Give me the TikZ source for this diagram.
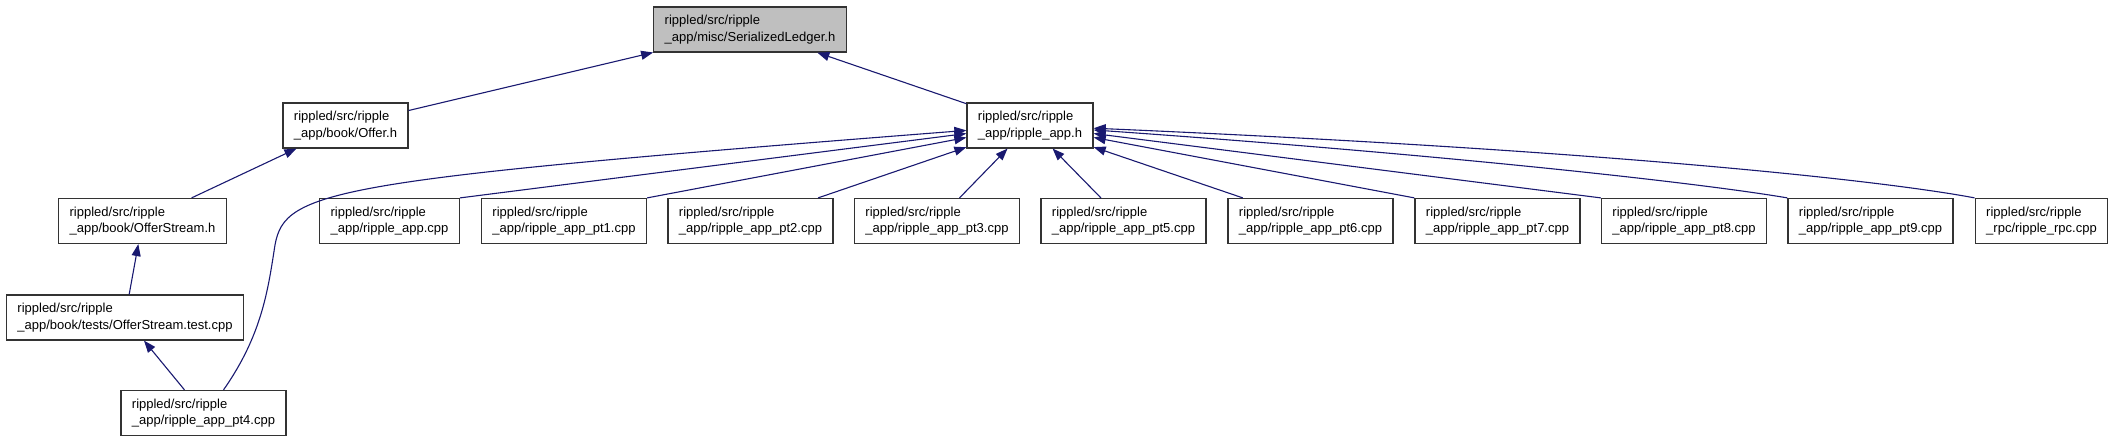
\documentclass[tikz,border=0pt]{standalone}
\usepackage{fontspec}
\setmainfont{Liberation Sans}
\usetikzlibrary{arrows.meta}
\definecolor{depblue}{RGB}{25,25,112}
\definecolor{boxgray}{RGB}{191,191,191}
\tikzset{
	filebox/.style={draw=black!80, line width=1.2pt, align=left, inner xsep=11pt, minimum height=45pt, font=\fontsize{13}{16.7}\selectfont},
	dep/.style={draw=depblue, line width=1.1pt, -{Triangle[length=12pt,width=9pt]}}
}
\begin{document}
\begin{tikzpicture}[x=1pt, y=-1pt]
			\useasboundingbox (0,0) rectangle (2112,443);
			\node[filebox, fill=boxgray] (ledger) at (750,29.5) {rippled/src/ripple\\\_app/misc/SerializedLedger.h};
			\node[filebox] (offer) at (345.5,125.5) {rippled/src/ripple\\\_app/book/Offer.h};
			\node[filebox] (app) at (1030,125.5) {rippled/src/ripple\\\_app/ripple\_app.h};
			\node[filebox] (stream) at (142.5,221) {rippled/src/ripple\\\_app/book/OfferStream.h};
			\node[filebox] (appcpp) at (389.5,221) {rippled/src/ripple\\\_app/ripple\_app.cpp};
			\node[filebox] (pt1) at (564,221) {rippled/src/ripple\\\_app/ripple\_app\_pt1.cpp};
			\node[filebox] (pt2) at (750.5,221) {rippled/src/ripple\\\_app/ripple\_app\_pt2.cpp};
			\node[filebox] (pt3) at (937,221) {rippled/src/ripple\\\_app/ripple\_app\_pt3.cpp};
			\node[filebox] (pt5) at (1123.5,221) {rippled/src/ripple\\\_app/ripple\_app\_pt5.cpp};
			\node[filebox] (pt6) at (1310.5,221) {rippled/src/ripple\\\_app/ripple\_app\_pt6.cpp};
			\node[filebox] (pt7) at (1497.5,221) {rippled/src/ripple\\\_app/ripple\_app\_pt7.cpp};
			\node[filebox] (pt8) at (1684,221) {rippled/src/ripple\\\_app/ripple\_app\_pt8.cpp};
			\node[filebox] (pt9) at (1870.5,221) {rippled/src/ripple\\\_app/ripple\_app\_pt9.cpp};
			\node[filebox] (rpc) at (2041.5,221) {rippled/src/ripple\\\_rpc/ripple\_rpc.cpp};
			\node[filebox] (streamtest) at (125,317.5) {rippled/src/ripple\\\_app/book/tests/OfferStream.test.cpp};
			\node[filebox] (pt4) at (203.5,413) {rippled/src/ripple\\\_app/ripple\_app\_pt4.cpp};
			\draw[dep] (offer) -- (ledger);
			\draw[dep] (app) -- (ledger);
			\draw[dep] (stream) -- (offer);
			\draw[dep] (streamtest) -- (stream);
			\draw[dep] (pt4) -- (streamtest);
			\draw[dep] ([xshift=20pt]pt4.north) .. controls (262,335) and (268,290) .. (275,245) .. controls (285,190) and (330,180) .. (app);
			\draw[dep] (appcpp.north east) -- (app);
			\draw[dep] (pt1.north east) -- (app);
			\draw[dep] (pt2) -- (app);
			\draw[dep] (pt3) -- (app);
			\draw[dep] (pt5) -- (app);
			\draw[dep] (pt6) -- (app);
			\draw[dep] (pt7.north west) -- (app);
			\draw[dep] (pt8.north west) -- (app);
			\draw[dep] (pt9.north west) .. controls (1700,183) and (1450,155) .. (app);
			\draw[dep] (rpc.north west) .. controls (1880,180) and (1600,150) .. (app);
	\end{tikzpicture}
\end{document}
